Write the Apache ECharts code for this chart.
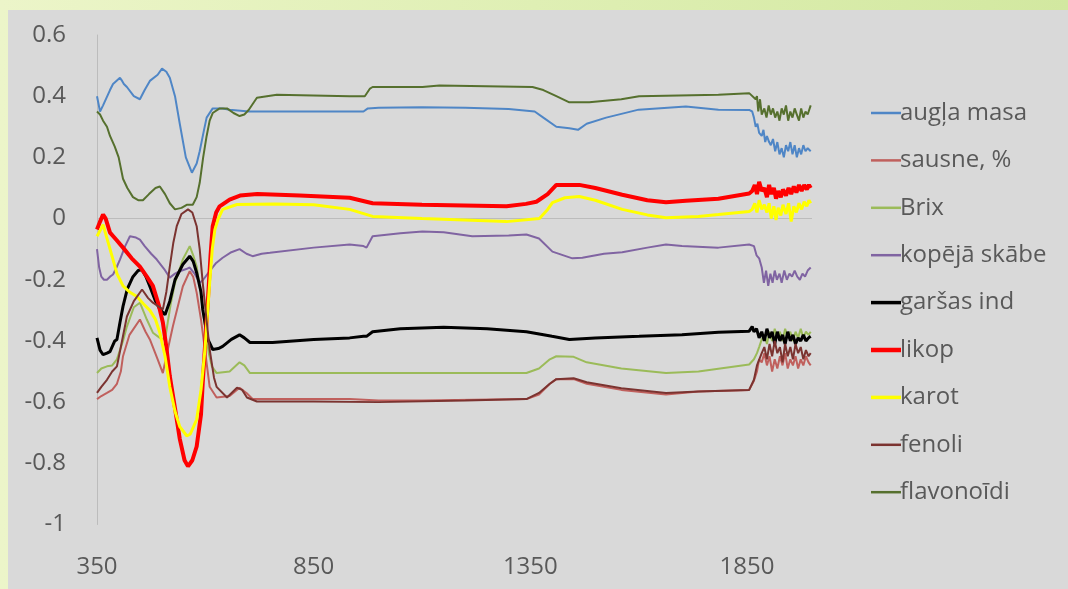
<!DOCTYPE html>
<html><head><meta charset="utf-8">
<script src="https://cdn.jsdelivr.net/npm/echarts@6/dist/echarts.min.js"></script>
<style>
html,body{margin:0;padding:0;width:1068px;height:589px;overflow:hidden;background:linear-gradient(90deg,#ecf5c9 0%,#dfefb4 50%,#d2e8a0 100%);}
#bg{position:absolute;left:8px;top:10px;width:1060px;height:579px;background:#d9d9d9;}
#c{position:absolute;left:0;top:0;width:1068px;height:589px;}
</style></head><body>
<div id="bg"></div><div id="c"></div>
<script>
const xTickLabels = [350, 850, 1350, 1850];
const seriesNames = ['augļa masa','sausne, %','Brix','kopējā skābe','garšas ind','likop','karot','fenoli','flavonoīdi'];

const auglaMasa = [[350,0.40],[357,0.35],[364,0.37],[380,0.42],[387,0.44],[403,0.46],[408,0.45],[412,0.44],[419,0.43],[435,0.40],[449,0.39],[460,0.42],[472,0.45],[490,0.47],[500,0.49],[510,0.48],[518,0.46],[530,0.40],[541,0.31],[555,0.20],[569,0.15],[580,0.18],[587,0.22],[597,0.29],[603,0.33],[617,0.36],[640,0.36],[656,0.356],[700,0.35],[800,0.35],[933,0.35],[965,0.35],[975,0.36],[1000,0.362],[1100,0.364],[1200,0.362],[1300,0.358],[1360,0.35],[1380,0.33],[1410,0.30],[1440,0.295],[1460,0.29],[1480,0.31],[1525,0.33],[1600,0.356],[1709,0.366],[1784,0.356],[1855,0.355],[1862,0.35],[1866,0.33],[1870,0.30],[1874,0.31],[1878,0.28],[1884,0.27],[1888,0.29],[1892,0.25],[1896,0.27],[1901,0.25],[1905,0.24],[1910,0.26],[1915,0.22],[1920,0.25],[1925,0.21],[1930,0.23],[1935,0.20],[1940,0.24],[1945,0.22],[1950,0.25],[1955,0.21],[1960,0.24],[1965,0.20],[1970,0.23],[1975,0.21],[1980,0.24],[1985,0.22],[1990,0.23],[1997,0.22]];

const sausne = [[350,-0.59],[360,-0.58],[373,-0.57],[385,-0.56],[396,-0.54],[405,-0.50],[410,-0.45],[425,-0.38],[449,-0.33],[462,-0.37],[472,-0.395],[490,-0.46],[502,-0.505],[510,-0.45],[525,-0.353],[548,-0.222],[564,-0.172],[572,-0.19],[580,-0.242],[590,-0.33],[599,-0.428],[610,-0.55],[626,-0.585],[656,-0.58],[679,-0.553],[695,-0.57],[709,-0.59],[933,-0.59],[1000,-0.595],[1100,-0.595],[1341,-0.59],[1370,-0.575],[1395,-0.54],[1410,-0.525],[1450,-0.525],[1480,-0.54],[1560,-0.56],[1663,-0.575],[1738,-0.565],[1855,-0.56],[1866,-0.53],[1873,-0.50],[1878,-0.46],[1884,-0.47],[1890,-0.44],[1896,-0.48],[1902,-0.45],[1908,-0.50],[1914,-0.46],[1920,-0.49],[1926,-0.45],[1932,-0.48],[1938,-0.44],[1944,-0.49],[1950,-0.46],[1956,-0.48],[1962,-0.45],[1968,-0.49],[1974,-0.46],[1980,-0.48],[1986,-0.45],[1992,-0.47],[1997,-0.48]];

const brix = [[350,-0.505],[360,-0.49],[373,-0.483],[385,-0.48],[396,-0.46],[410,-0.40],[419,-0.353],[435,-0.29],[449,-0.275],[465,-0.33],[479,-0.373],[495,-0.39],[507,-0.395],[520,-0.28],[530,-0.21],[548,-0.134],[564,-0.09],[572,-0.12],[580,-0.157],[590,-0.25],[599,-0.353],[608,-0.44],[615,-0.483],[626,-0.505],[656,-0.50],[679,-0.47],[690,-0.48],[703,-0.505],[933,-0.505],[1100,-0.505],[1341,-0.505],[1370,-0.49],[1395,-0.46],[1410,-0.45],[1450,-0.452],[1480,-0.47],[1560,-0.49],[1663,-0.505],[1738,-0.50],[1855,-0.477],[1866,-0.46],[1873,-0.44],[1878,-0.42],[1884,-0.395],[1890,-0.38],[1896,-0.41],[1902,-0.37],[1908,-0.40],[1914,-0.36],[1920,-0.39],[1926,-0.37],[1932,-0.40],[1938,-0.36],[1944,-0.39],[1950,-0.37],[1956,-0.40],[1962,-0.37],[1968,-0.39],[1974,-0.36],[1980,-0.39],[1986,-0.37],[1992,-0.38],[1997,-0.37]];

const kopejaSkabe = [[350,-0.10],[355,-0.16],[360,-0.19],[366,-0.20],[373,-0.20],[380,-0.19],[387,-0.183],[395,-0.16],[403,-0.134],[415,-0.09],[426,-0.058],[440,-0.062],[449,-0.069],[460,-0.09],[475,-0.115],[488,-0.134],[505,-0.165],[518,-0.193],[530,-0.18],[541,-0.172],[556,-0.165],[564,-0.16],[575,-0.18],[587,-0.21],[595,-0.20],[610,-0.172],[625,-0.145],[640,-0.128],[660,-0.11],[679,-0.10],[695,-0.115],[709,-0.123],[730,-0.115],[749,-0.112],[850,-0.095],[933,-0.085],[965,-0.09],[972,-0.095],[986,-0.058],[1050,-0.048],[1101,-0.042],[1150,-0.045],[1216,-0.058],[1300,-0.055],[1341,-0.052],[1370,-0.065],[1401,-0.108],[1447,-0.13],[1470,-0.128],[1520,-0.115],[1562,-0.11],[1620,-0.095],[1663,-0.085],[1700,-0.09],[1784,-0.095],[1855,-0.085],[1866,-0.09],[1872,-0.12],[1878,-0.13],[1884,-0.16],[1889,-0.21],[1894,-0.17],[1899,-0.22],[1904,-0.18],[1909,-0.21],[1914,-0.17],[1919,-0.20],[1925,-0.18],[1930,-0.21],[1936,-0.17],[1942,-0.20],[1948,-0.18],[1954,-0.19],[1960,-0.17],[1966,-0.19],[1972,-0.20],[1978,-0.18],[1984,-0.19],[1990,-0.17],[1997,-0.16]];

const garsasInd = [[350,-0.39],[357,-0.43],[364,-0.445],[373,-0.44],[380,-0.435],[391,-0.40],[396,-0.395],[403,-0.34],[410,-0.287],[420,-0.23],[433,-0.19],[445,-0.17],[454,-0.167],[463,-0.19],[472,-0.222],[485,-0.27],[495,-0.297],[507,-0.314],[518,-0.27],[530,-0.20],[548,-0.15],[564,-0.123],[572,-0.14],[580,-0.177],[590,-0.24],[594,-0.297],[606,-0.395],[617,-0.428],[630,-0.425],[640,-0.418],[660,-0.395],[679,-0.38],[690,-0.39],[703,-0.405],[755,-0.405],[850,-0.395],[933,-0.39],[965,-0.385],[972,-0.385],[986,-0.37],[1050,-0.36],[1150,-0.355],[1250,-0.36],[1341,-0.37],[1400,-0.385],[1440,-0.395],[1500,-0.39],[1601,-0.385],[1700,-0.38],[1784,-0.372],[1855,-0.368],[1862,-0.353],[1866,-0.37],[1872,-0.36],[1878,-0.39],[1884,-0.37],[1890,-0.40],[1896,-0.36],[1902,-0.39],[1908,-0.37],[1914,-0.41],[1920,-0.37],[1926,-0.40],[1932,-0.38],[1938,-0.41],[1944,-0.37],[1950,-0.40],[1956,-0.38],[1962,-0.41],[1968,-0.39],[1974,-0.40],[1980,-0.38],[1986,-0.40],[1992,-0.39],[1997,-0.385]];

const likop = [[350,-0.036],[357,-0.01],[364,0.013],[370,0.0],[380,-0.046],[395,-0.07],[410,-0.095],[430,-0.13],[449,-0.157],[465,-0.19],[479,-0.22],[492,-0.28],[502,-0.34],[510,-0.42],[518,-0.515],[530,-0.62],[541,-0.72],[552,-0.79],[560,-0.81],[570,-0.79],[580,-0.745],[590,-0.64],[594,-0.537],[600,-0.40],[606,-0.265],[612,-0.12],[617,-0.025],[625,0.02],[633,0.04],[656,0.062],[680,0.075],[720,0.08],[818,0.075],[933,0.068],[986,0.05],[1100,0.045],[1295,0.04],[1340,0.048],[1364,0.055],[1390,0.08],[1410,0.11],[1463,0.11],[1500,0.10],[1562,0.078],[1620,0.06],[1663,0.053],[1709,0.058],[1784,0.065],[1855,0.082],[1862,0.09],[1868,0.11],[1873,0.08],[1878,0.12],[1884,0.09],[1890,0.10],[1896,0.07],[1901,0.11],[1906,0.08],[1912,0.10],[1917,0.065],[1922,0.09],[1928,0.07],[1933,0.095],[1940,0.075],[1946,0.10],[1952,0.08],[1958,0.105],[1964,0.085],[1970,0.11],[1976,0.09],[1982,0.11],[1988,0.095],[1993,0.11],[1997,0.10]];

const karot = [[350,-0.058],[357,-0.04],[364,-0.02],[372,-0.06],[387,-0.134],[396,-0.18],[410,-0.22],[425,-0.24],[442,-0.255],[458,-0.28],[472,-0.30],[485,-0.33],[495,-0.373],[507,-0.45],[518,-0.55],[530,-0.63],[541,-0.68],[557,-0.71],[565,-0.705],[580,-0.657],[590,-0.56],[599,-0.43],[610,-0.21],[616,-0.10],[622,-0.036],[630,0.0],[640,0.03],[673,0.046],[760,0.048],[850,0.045],[933,0.03],[986,0.007],[1100,0.0],[1295,-0.01],[1371,0.0],[1390,0.03],[1401,0.052],[1430,0.068],[1463,0.072],[1500,0.06],[1562,0.03],[1620,0.012],[1663,0.003],[1738,0.007],[1784,0.013],[1855,0.023],[1862,0.03],[1868,0.05],[1873,0.02],[1878,0.06],[1884,0.03],[1890,0.045],[1896,0.02],[1901,0.05],[1906,0.0],[1912,0.04],[1917,-0.005],[1922,0.035],[1928,0.01],[1933,0.045],[1940,0.015],[1946,0.05],[1952,-0.01],[1958,0.04],[1964,0.02],[1970,0.05],[1976,0.03],[1982,0.055],[1988,0.04],[1993,0.06],[1997,0.05]];

const fenoli = [[350,-0.57],[360,-0.55],[373,-0.527],[385,-0.50],[396,-0.483],[405,-0.42],[419,-0.32],[435,-0.27],[454,-0.232],[468,-0.26],[479,-0.275],[502,-0.297],[510,-0.24],[518,-0.157],[526,-0.08],[534,-0.025],[545,0.015],[560,0.03],[570,0.02],[580,-0.025],[587,-0.10],[594,-0.21],[602,-0.32],[610,-0.428],[620,-0.52],[626,-0.55],[650,-0.585],[673,-0.553],[685,-0.56],[696,-0.585],[719,-0.598],[850,-0.598],[1000,-0.60],[1200,-0.595],[1341,-0.59],[1370,-0.57],[1395,-0.54],[1410,-0.525],[1450,-0.522],[1480,-0.535],[1560,-0.555],[1663,-0.57],[1738,-0.565],[1855,-0.56],[1866,-0.527],[1873,-0.48],[1884,-0.44],[1890,-0.42],[1896,-0.46],[1902,-0.41],[1908,-0.45],[1914,-0.40],[1920,-0.44],[1926,-0.42],[1932,-0.47],[1938,-0.41],[1944,-0.45],[1950,-0.42],[1956,-0.46],[1962,-0.41],[1968,-0.44],[1974,-0.42],[1980,-0.46],[1986,-0.43],[1992,-0.45],[1997,-0.44]];

const flavonoidi = [[350,0.35],[357,0.34],[364,0.32],[373,0.30],[380,0.27],[391,0.235],[400,0.20],[410,0.13],[420,0.10],[433,0.07],[445,0.06],[456,0.06],[470,0.08],[485,0.10],[495,0.105],[507,0.08],[518,0.05],[530,0.03],[545,0.035],[557,0.045],[571,0.045],[580,0.07],[587,0.117],[595,0.20],[603,0.27],[610,0.32],[617,0.345],[633,0.36],[650,0.36],[665,0.345],[679,0.335],[690,0.34],[700,0.355],[719,0.395],[765,0.405],[933,0.40],[968,0.40],[972,0.40],[980,0.425],[986,0.43],[1101,0.43],[1140,0.435],[1355,0.43],[1380,0.42],[1410,0.40],[1440,0.38],[1486,0.38],[1560,0.39],[1601,0.40],[1784,0.405],[1855,0.41],[1870,0.39],[1873,0.40],[1876,0.35],[1880,0.39],[1884,0.34],[1890,0.36],[1895,0.33],[1900,0.37],[1905,0.34],[1910,0.36],[1915,0.33],[1920,0.35],[1925,0.32],[1930,0.36],[1935,0.34],[1940,0.37],[1945,0.32],[1950,0.35],[1955,0.33],[1960,0.36],[1965,0.34],[1970,0.32],[1975,0.36],[1980,0.33],[1985,0.35],[1990,0.34],[1997,0.37]];

const seriesData = [auglaMasa, sausne, brix, kopejaSkabe, garsasInd, likop, karot, fenoli, flavonoidi];
const colors = ['#4f86c6','#c0605d','#9bbb59','#8064a2','#000000','#ff0000','#ffff00','#7b3330','#56702e'];
const widths = [2,2,2,2,3,4,3,2,2];

const chart = echarts.init(document.getElementById('c'), null, {renderer:'canvas'});
const font = '"Open Sans", Lato, sans-serif';
const series = seriesNames.map((n,i)=>({
  name:n, type:'line', data:seriesData[i], symbol:'none', showSymbol:false,
  lineStyle:{color:colors[i], width:widths[i]}, itemStyle:{color:colors[i]},
  animation:false, z:2+i,
  markLine: i===0 ? {silent:true, symbol:'none', animation:false, label:{show:false},
    lineStyle:{color:'#bcbcbc', type:'solid', width:1}, data:[{yAxis:0}], z:1} : undefined
}));
const legendData = seriesNames.map((n,i)=>({
  name:n,
  icon: widths[i] >= 4 ? 'path://M0,0H30V4.5H0Z' : (widths[i] === 3 ? 'path://M0,0H30V3.5H0Z' : 'path://M0,0H30V2.5H0Z'),
  itemStyle:{color:colors[i], borderWidth:0}
}));
chart.setOption({
  backgroundColor:'transparent',
  animation:false,
  grid:{left:97, right:256, top:35, bottom:64.5, containLabel:false},
  xAxis:{type:'value', min:350, max:2000,
    axisLine:{show:false}, axisTick:{show:false}, splitLine:{show:false},
    axisLabel:{customValues:xTickLabels, formatter:v=>String(v), color:'#595959', fontSize:24, fontFamily:font, margin:31}},
  yAxis:{type:'value', min:-1, max:0.6, interval:0.2,
    axisLine:{show:true, lineStyle:{color:'#bcbcbc', width:1}}, axisTick:{show:false}, splitLine:{show:false},
    axisLabel:{color:'#595959', fontSize:24, fontFamily:font, margin:31,
      formatter:v=>{const r=Math.round(v*10)/10; return String(r);}}},
  legend:{orient:'vertical', left:866, top:95, itemWidth:30, itemHeight:14, itemGap:21.4,
    symbolKeepAspect:true,
    data:legendData,
    textStyle:{color:'#595959', fontSize:24, fontFamily:font, lineHeight:26, padding:[0,0,0,-6]}},
  series:series
});
</script></body></html>
